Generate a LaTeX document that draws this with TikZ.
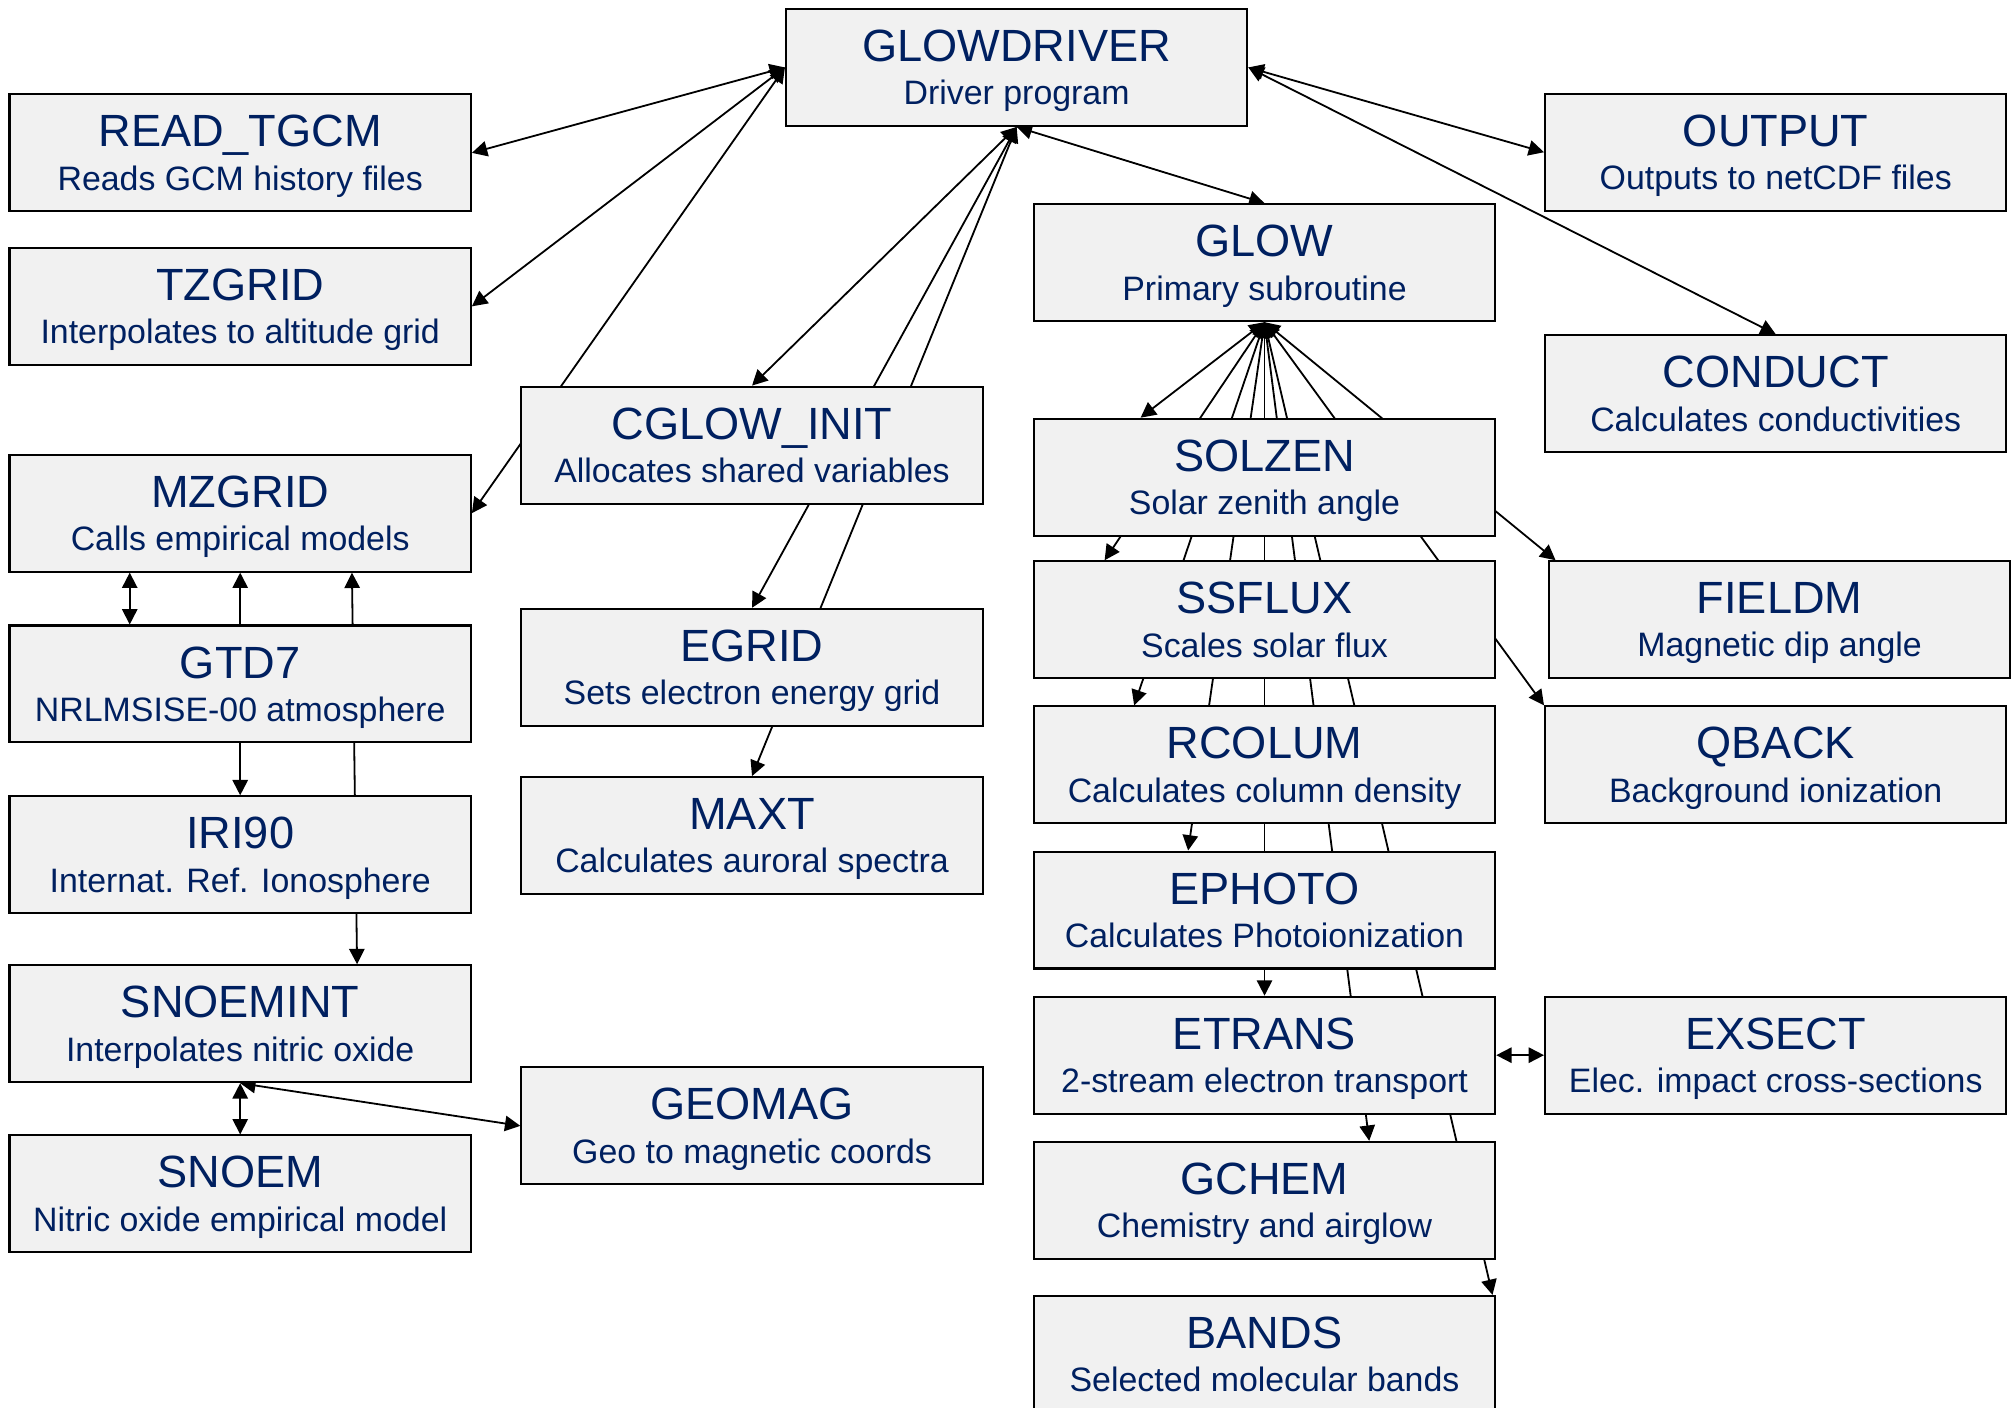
\documentclass[tikz,border=0pt]{standalone}
\usepackage{fontspec}
\setmainfont{Liberation Sans}
\usetikzlibrary{arrows.meta,calc,backgrounds}
\definecolor{boxgray}{RGB}{241,241,241}
\definecolor{titleblue}{RGB}{0,32,96}
\newcommand{\boxsub}[1]{{\fontsize{7.5}{9.6}\selectfont\smash{#1}}}

\begin{document}
\begin{tikzpicture}[x=0.01cm,y=-0.01cm,
	box/.style={draw,fill=boxgray,line width=0.45pt,minimum width=3.59cm,minimum height=0.91cm,
		inner sep=0pt,align=center,text=titleblue,font=\fontsize{10}{9.6}\selectfont},
	link/.style={{Triangle[length=3.4pt,width=3.4pt]}-{Triangle[length=3.4pt,width=3.4pt]},line width=0.4pt}]
	
	\useasboundingbox (0,0) rectangle (1568,1096);
	
	% driver
	\node[box] (gd) at (791.5,52.5) {GLOWDRIVER\\\boxsub{Driver program}};
	
	% left column
	\node[box] (read) at (187,119) {READ\_TGCM\\\boxsub{Reads GCM history files}};
	\node[box] (tz) at (187,238.5) {TZGRID\\\boxsub{Interpolates to altitude grid}};
	\node[box] (mz) at (187,399.5) {MZGRID\\\boxsub{Calls empirical models}};
	\node[box] (gtd7) at (187,532.5) {GTD7\\\boxsub{NRLMSISE-00 atmosphere}};
	\node[box] (iri) at (187,665.5) {IRI90\\\boxsub{Internat. Ref. Ionosphere}};
	\node[box] (snoemint) at (187,797) {SNOEMINT\\\boxsub{Interpolates nitric oxide}};
	\node[box] (snoem) at (187,929.5) {SNOEM\\\boxsub{Nitric oxide empirical model}};
	
	% middle column
	\node[box] (cg) at (585.5,346.5) {CGLOW\_INIT\\\boxsub{Allocates shared variables}};
	\node[box] (egrid) at (585.5,519.5) {EGRID\\\boxsub{Sets electron energy grid}};
	\node[box] (maxt) at (585.5,650.5) {MAXT\\\boxsub{Calculates auroral spectra}};
	\node[box] (geomag) at (585.5,876.5) {GEOMAG\\\boxsub{Geo to magnetic coords}};
	
	% glow column
	\node[box] (glow) at (984.5,204.5) {GLOW\\\boxsub{Primary subroutine}};
	\node[box] (solzen) at (984.5,371.5) {SOLZEN\\\boxsub{Solar zenith angle}};
	\node[box] (ssflux) at (984.5,482.5) {SSFLUX\\\boxsub{Scales solar flux}};
	\node[box] (rcolum) at (984.5,595.5) {RCOLUM\\\boxsub{Calculates column density}};
	\node[box] (ephoto) at (984.5,708.5) {EPHOTO\\\boxsub{Calculates Photoionization}};
	\node[box] (etrans) at (984.5,821.5) {ETRANS\\\boxsub{2-stream electron transport}};
	\node[box] (gchem) at (984.5,934.5) {GCHEM\\\boxsub{Chemistry and airglow}};
	\node[box] (bands) at (984.5,1054.5) {BANDS\\\boxsub{Selected molecular bands}};
	
	% right column
	\node[box] (output) at (1382.5,118.5) {OUTPUT\\\boxsub{Outputs to netCDF files}};
	\node[box] (conduct) at (1382.5,306.5) {CONDUCT\\\boxsub{Calculates conductivities}};
	\node[box] (fieldm) at (1385.5,482.5) {FIELDM\\\boxsub{Magnetic dip angle}};
	\node[box] (qback) at (1382.5,595.5) {QBACK\\\boxsub{Background ionization}};
	\node[box] (exsect) at (1382.5,821.5) {EXSECT\\\boxsub{Elec. impact cross-sections}};
	
	\begin{pgfonlayer}{background}
		% calls from the driver
		\foreach \n in {read,tz,mz}
			\draw[link] (gd.west) -- (\n.east);
		\foreach \n in {cg,egrid,maxt,glow}
			\draw[link] (gd.south) -- (\n.north);
		\draw[link] (gd.east) -- (output.west);
		\draw[link] (gd.east) -- (conduct.north);
		
		% calls from glow
		\foreach \n/\dx in {solzen/-96.5,ssflux/-124.5,rcolum/-101.5,ephoto/-59.5,etrans/0,gchem/81.5,bands/177.5}
			\draw[link] (glow.south) -- ($(\n.north)+(\dx,0)$);
		\draw[link] (glow.south) -- (qback.north west);
		\draw[link] (glow.south) -- ($(fieldm.north west)+(6,0)$);
		\draw[link] (etrans.east) -- (exsect.west);
		
		% empirical models
		\draw[link] ($(mz.south)+(-86,0)$) -- ($(gtd7.north)+(-86,0)$);
		\draw[link] (mz.south) -- (iri.north);
		\draw[link] ($(mz.south)+(87,0)$) -- ($(snoemint.north)+(91,0)$);
		\draw[link] (snoemint.south) -- (snoem.north);
		\draw[link] (snoemint.south) -- (geomag.west);
	\end{pgfonlayer}
	
\end{tikzpicture}
\end{document}
